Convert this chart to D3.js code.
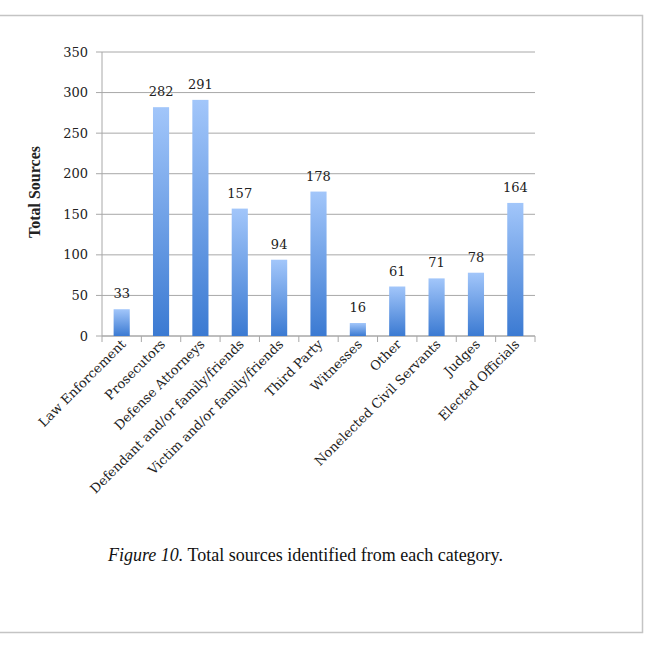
<!DOCTYPE html>
<html>
<head>
<meta charset="utf-8">
<script src="https://cdn.jsdelivr.net/npm/d3@7"></script>
<style>
  body { margin: 0; background: #fff; }
  svg { display: block; }
</style>
</head>
<body>
<div id="chart"></div>
<script>
const categories = ["Law Enforcement", "Prosecutors", "Defense Attorneys",
    "Defendant and/or family/friends", "Victim and/or family/friends", "Third Party",
    "Witnesses", "Other", "Nonelected Civil Servants", "Judges", "Elected Officials"];
const totals = [33, 282, 291, 157, 94, 178, 16, 61, 71, 78, 164];
const yTicks = [0, 50, 100, 150, 200, 250, 300, 350];

const width = 645,
    height = 648;
const margin = { top: 52, right: 110, bottom: 312, left: 102 };

const svg = d3.select("#chart")
    .append("svg")
    .attr("width", width)
    .attr("height", height);

// frame round the figure
svg.append("path")
    .attr("d", "M0,15.5 H642.5 V632.5 H0")
    .attr("fill", "none")
    .attr("stroke", "#c4c4c4")
    .attr("stroke-width", 1.5);

const grad = svg.append("defs").append("linearGradient")
    .attr("id", "barGrad")
    .attr("x1", 0).attr("y1", 0).attr("x2", 0).attr("y2", 1);
grad.append("stop").attr("offset", "0%").attr("stop-color", "#a2c6fa");
grad.append("stop").attr("offset", "100%").attr("stop-color", "#3b7ad2");

const g = svg.append("g")
    .attr("transform", `translate(${margin.left}, ${margin.top})`);

const w = width - margin.left - margin.right,
    h = height - margin.top - margin.bottom;

const x = d3.scaleBand()
    .domain(categories)
    .range([0, w])
    .paddingInner(0.59)
    .paddingOuter(0.295);

const y = d3.scaleLinear()
    .domain([0, 350])
    .range([h, 0]);

// gridlines + y ticks
g.append("g")
    .attr("class", "grid")
    .selectAll("line")
    .data(yTicks)
    .join("line")
    .attr("x1", -6)
    .attr("x2", w)
    .attr("y1", d => y(d))
    .attr("y2", d => y(d))
    .attr("stroke", "#a8a8a8")
    .attr("stroke-width", 1);

g.append("g")
    .selectAll("text")
    .data(yTicks)
    .join("text")
    .attr("x", -14)
    .attr("y", d => y(d))
    .attr("dy", "0.35em")
    .attr("text-anchor", "end")
    .style("font-family", "'DejaVu Serif', serif")
    .style("font-size", "13px")
    .style("fill", "#222")
    .text(d => d);

// y axis line
g.append("line")
    .attr("x1", 0).attr("x2", 0)
    .attr("y1", 0).attr("y2", h)
    .attr("stroke", "#a8a8a8");

// x axis line and ticks at band edges
g.append("line")
    .attr("x1", 0).attr("x2", w)
    .attr("y1", h).attr("y2", h)
    .attr("stroke", "#a8a8a8");

const step = x.step();
g.append("g")
    .selectAll("line")
    .data(d3.range(categories.length + 1))
    .join("line")
    .attr("x1", i => i * step)
    .attr("x2", i => i * step)
    .attr("y1", h)
    .attr("y2", h + 6)
    .attr("stroke", "#a8a8a8");

// bars
g.selectAll("rect.bar")
    .data(totals)
    .join("rect")
    .attr("class", "bar")
    .attr("x", (d, i) => x(categories[i]))
    .attr("y", d => y(d))
    .attr("width", x.bandwidth())
    .attr("height", d => h - y(d))
    .attr("fill", "url(#barGrad)");

// value labels
g.selectAll("text.val")
    .data(totals)
    .join("text")
    .attr("class", "val")
    .attr("x", (d, i) => x(categories[i]) + x.bandwidth() / 2)
    .attr("y", d => y(d) - 11)
    .attr("text-anchor", "middle")
    .style("font-family", "'DejaVu Serif', serif")
    .style("font-size", "13px")
    .style("fill", "#222")
    .text(d => d);

// category labels, rotated
g.selectAll("text.cat")
    .data(categories)
    .join("text")
    .attr("class", "cat")
    .attr("transform", d => `translate(${x(d) + x.bandwidth() / 2 + 5}, ${h + 9}) rotate(-45)`)
    .attr("text-anchor", "end")
    .style("font-family", "'DejaVu Serif', serif")
    .style("font-size", "13px")
    .style("fill", "#222")
    .text(d => d);

// y axis title
svg.append("text")
    .attr("transform", `translate(40, ${margin.top + h / 2 - 2}) rotate(-90)`)
    .attr("text-anchor", "middle")
    .style("font-family", "'Liberation Serif', serif")
    .style("font-weight", "bold")
    .style("font-size", "16px")
    .style("fill", "#222")
    .text("Total Sources");

// caption
const cap = svg.append("text")
    .attr("x", 108)
    .attr("y", 561)
    .style("font-family", "'Liberation Serif', serif")
    .style("font-size", "18px")
    .style("fill", "#111");
cap.append("tspan").style("font-style", "italic").text("Figure 10.");
cap.append("tspan").text(" Total sources identified from each category.");
</script>
</body>
</html>
